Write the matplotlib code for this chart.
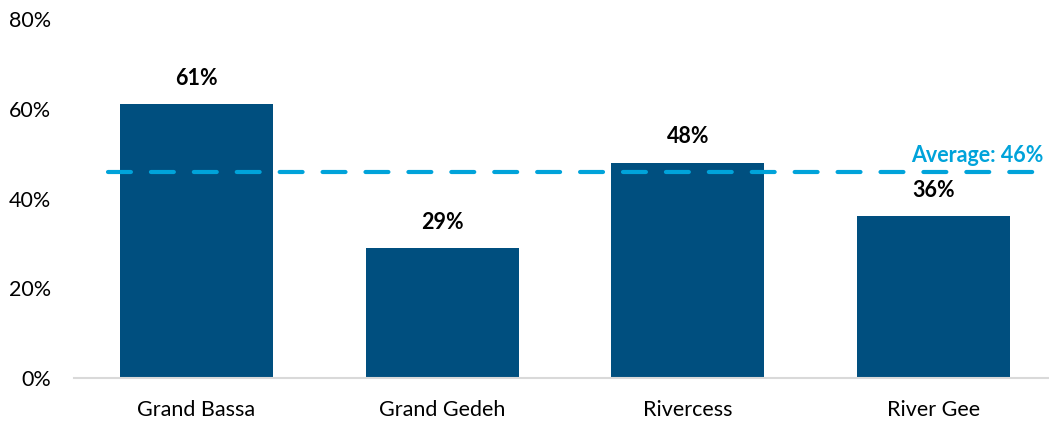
import matplotlib
matplotlib.use("Agg")
import matplotlib.pyplot as plt

categories = ["Grand Bassa", "Grand Gedeh", "Rivercess", "River Gee"]
values = [61, 29, 48, 36]
average = 46
yticks = [0, 20, 40, 60, 80]

plt.rcParams['font.family'] = ['Lato', 'DejaVu Sans']

left_px, right_px = 73.7, 1056.4
fig = plt.figure(figsize=(10.49, 4.23), dpi=100)
ax = fig.add_axes([left_px/1049, 45/423, (right_px - left_px)/1049, (378-19)/423])

bar_color = "#004F7F"
avg_color = "#00A3DA"

x = list(range(len(categories)))
ax.bar(x, values, width=0.623, color=bar_color, zorder=2)
for xi, v in zip(x, values):
    ax.annotate(f"{v}%", (xi, v), xytext=(0, 11), textcoords="offset points",
                ha="center", va="bottom", fontsize=15.5, fontweight="bold", color="black")

ax.set_xlim(-0.5, 3.5)
ax.set_ylim(0, 80)
ax.plot([-0.36, 3.5], [average, average], color=avg_color, lw=3, linestyle=(0, (5.5, 4.8)),
        dash_capstyle="round", zorder=3, clip_on=False)
ax.text(3.446, average + 1.3, f"Average: {average}%", ha="right", va="bottom",
        fontsize=15.5, fontweight="bold", color=avg_color)

ax.set_xticks(x)
ax.set_xticklabels(categories, fontsize=15.5)
ax.set_yticks(yticks)
ax.set_yticklabels([f"{t}%" for t in yticks], fontsize=15.5)
ax.tick_params(axis="both", length=0)
ax.tick_params(axis="x", pad=16)
ax.tick_params(axis="y", pad=16)
for s in ["top", "right", "left"]:
    ax.spines[s].set_visible(False)
ax.spines["bottom"].set_color("#D9D9D9")
ax.spines["bottom"].set_linewidth(1.5)

fig.savefig("out.png", dpi=100)
